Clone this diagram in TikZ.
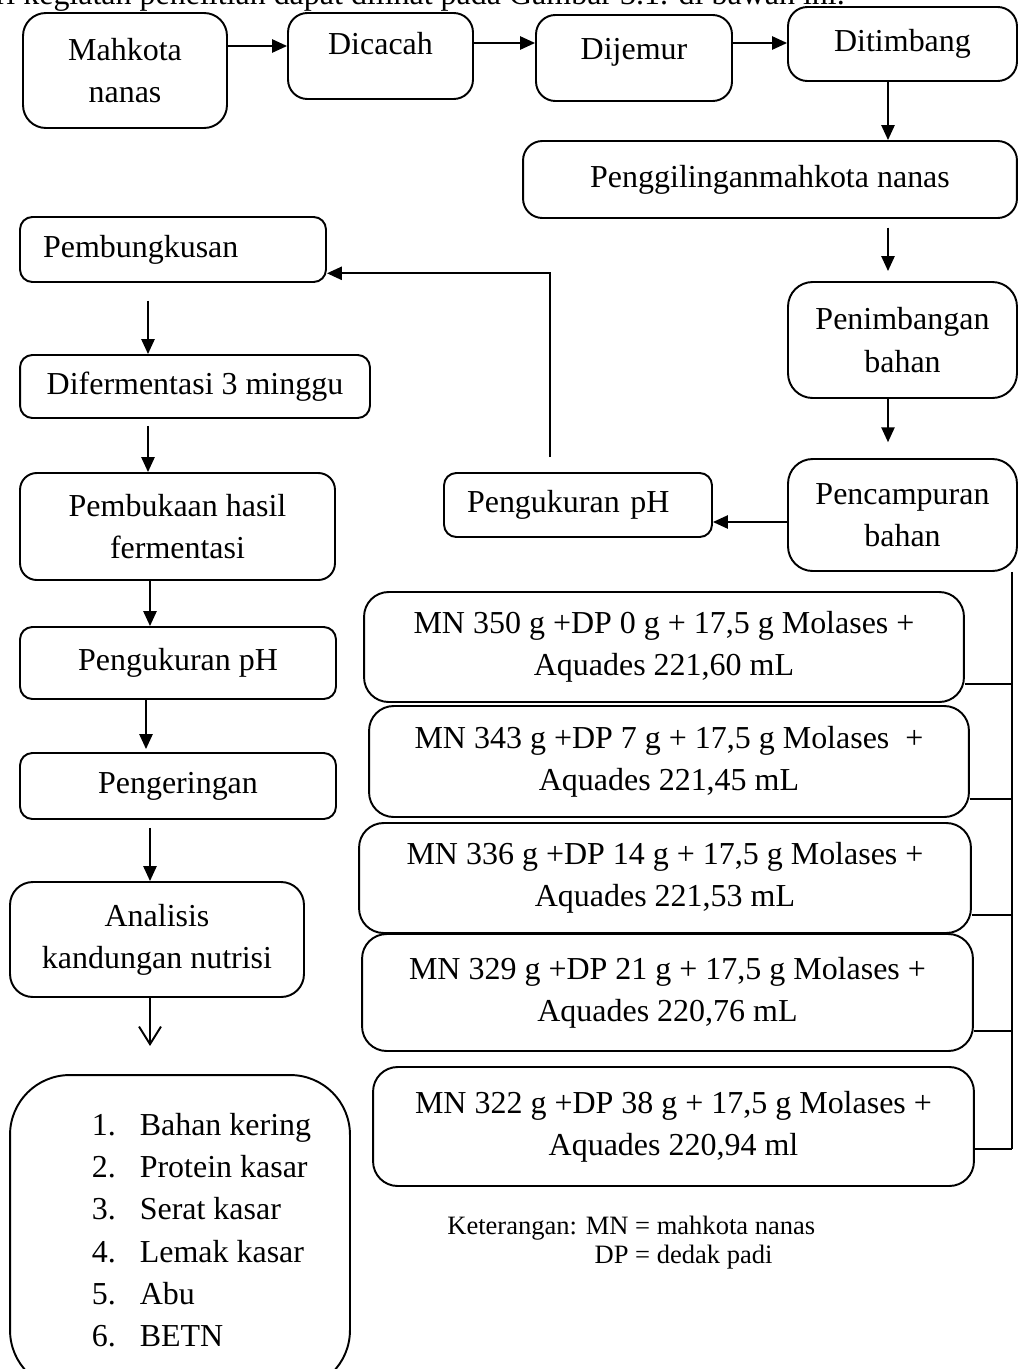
\documentclass[tikz,border=0pt]{standalone}
\usepackage{fontspec}
\setmainfont{Liberation Serif}
\usetikzlibrary{arrows.meta}

\newcommand{\boxfont}{\fontsize{18.2pt}{24pt}\selectfont}
\newcommand{\notefont}{\fontsize{15.1pt}{17pt}\selectfont}

\tikzset{
  box/.style={draw, line width=1.1pt, rounded corners=7pt, align=center, inner sep=2pt, font=\boxfont},
  bigbox/.style={box, rounded corners=13pt},
  lbox/.style={box, align=left, inner xsep=0.46cm, text width=#1},
  arr/.style={line width=1.1pt, -{Triangle[length=8.5pt,width=7.5pt]}},
  openarr/.style={line width=1.1pt, -{Straight Barb[length=10pt,width=12.5pt]}},
  link/.style={line width=1.1pt}
}

\begin{document}
\begin{tikzpicture}[x=0.02cm, y=-0.02cm]
\useasboundingbox (0,0) rectangle (1019,1369);
\clip (0,0) rectangle (1019,1369);
% line of running text cut by the top edge
\node[font=\boxfont, anchor=base east, inner sep=0pt] (intro) at (845,5) {dari kegiatan penelitian dapat dilihat pada Gambar 3.1. di bawah ini.};

% top row
\node[bigbox, minimum width=4.08cm, minimum height=2.3cm] (mahkota) at (125,70.5) {Mahkota\\nanas};
\node[bigbox, rounded corners=11pt, minimum width=3.7cm, minimum height=1.72cm, text depth=14pt] (dicacah) at (380.5,56) {Dicacah};
\node[bigbox, rounded corners=11pt, minimum width=3.92cm, minimum height=1.72cm, text depth=10pt] (dijemur) at (634,58) {Dijemur};
\node[bigbox, rounded corners=11pt, minimum width=4.58cm, minimum height=1.48cm] (ditimbang) at (902.5,44) {Ditimbang};

% right column
\node[bigbox, rounded corners=11pt, minimum width=9.88cm, minimum height=1.54cm] (giling) at (770,179.5) {Penggilinganmahkota nanas};
\node[bigbox, rounded corners=14pt, minimum width=4.58cm, minimum height=2.32cm] (timbang) at (902.5,340) {Penimbangan\\bahan};
\node[bigbox, rounded corners=14pt, minimum width=4.58cm, minimum height=2.24cm] (campur) at (902.5,515) {Pencampuran\\bahan};
\node[lbox=4.44cm, minimum width=5.36cm, minimum height=1.28cm] (ph1) at (578,505) {Pengukuran pH};

% left column
\node[lbox=5.2cm, minimum width=6.12cm, minimum height=1.3cm] (bungkus) at (173,249.5) {Pembungkusan};
\node[box, minimum width=7cm, minimum height=1.26cm] (fermen) at (195,386.5) {Difermentasi 3 minggu};
\node[box, rounded corners=9.5pt, minimum width=6.3cm, minimum height=2.14cm] (buka) at (177.5,526.5) {Pembukaan hasil\\fermentasi};
\node[box, minimum width=6.32cm, minimum height=1.44cm] (ph2) at (178,663) {Pengukuran pH};
\node[box, minimum width=6.32cm, minimum height=1.32cm] (kering) at (178,786) {Pengeringan};
\node[bigbox, minimum width=5.88cm, minimum height=2.3cm] (analisis) at (157,939.5) {Analisis\\kandungan nutrisi};
\node[box, rounded corners=34pt, minimum width=6.8cm, minimum height=6.3cm] (hasil) at (180,1232.5)
  {\begin{tabular}{@{\hspace{0.86cm}}p{0.96cm}@{}l@{}}
   1. & Bahan kering\\ 2. & Protein kasar\\ 3. & Serat kasar\\
   4. & Lemak kasar\\ 5. & Abu\\ 6. & BETN
   \end{tabular}};

% treatments
\node[bigbox, rounded corners=14pt, minimum width=12cm, minimum height=2.2cm] (mn1) at (664,647) {MN 350 g +DP 0 g + 17,5 g Molases +\\Aquades 221,60 mL};
\node[bigbox, rounded corners=14pt, minimum width=12cm, minimum height=2.22cm] (mn2) at (669,761.5) {MN 343 g +DP 7 g + 17,5 g Molases\ \ +\\Aquades 221,45 mL};
\node[bigbox, rounded corners=14pt, minimum width=12.24cm, minimum height=2.2cm] (mn3) at (665,878) {MN 336 g +DP 14 g + 17,5 g Molases +\\Aquades 221,53 mL};
\node[bigbox, rounded corners=14pt, minimum width=12.22cm, minimum height=2.34cm] (mn4) at (667.5,992.5) {MN 329 g +DP 21 g + 17,5 g Molases +\\Aquades 220,76 mL};
\node[bigbox, rounded corners=14pt, minimum width=12.02cm, minimum height=2.38cm] (mn5) at (673.5,1126.5) {MN 322 g +DP 38 g + 17,5 g Molases +\\Aquades 220,94 ml};

\node[font=\notefont, anchor=west, inner sep=0pt] (note) at (447,1243)
  {\begin{tabular}{@{}r@{\ =\ }l@{}}Keterangan: MN & mahkota nanas\\ DP & dedak padi\end{tabular}};

% arrows
\draw[arr] (mahkota.east |- 0,46) -- (dicacah.west |- 0,46);
\draw[arr] (dicacah.east |- 0,43) -- (dijemur.west |- 0,43);
\draw[arr] (dijemur.east |- 0,43) -- (ditimbang.west |- 0,43);
\draw[arr] (ditimbang.south -| 888,0) -- (giling.north -| 888,0);
\draw[arr, shorten <=5pt, shorten >=5.7pt] (giling.south -| 888,0) -- (timbang.north -| 888,0);
\draw[arr, shorten >=9pt] (timbang.south -| 888,0) -- (campur.north -| 888,0);
\draw[arr] (campur.west |- 0,522) -- (ph1.east |- 0,522);
\draw[arr, shorten <=8.5pt] (ph1.north -| 550,0) |- ([yshift=5.5pt]bungkus.south east);

\draw[arr, shorten <=10pt] (bungkus.south -| 148,0) -- (fermen.north -| 148,0);
\draw[arr, shorten <=4pt] (fermen.south -| 148,0) -- (buka.north -| 148,0);
\draw[arr] (buka.south -| 150,0) -- (ph2.north -| 150,0);
\draw[arr, shorten >=1.7pt] (ph2.south -| 146,0) -- (kering.north -| 146,0);
\draw[arr, shorten <=4.5pt] (kering.south -| 150,0) -- (analisis.north -| 150,0);
\draw[openarr, shorten >=16pt] (analisis.south -| 150,0) -- (hasil.north -| 150,0);

% bracket joining the treatments
\coordinate (bus) at (1012,0);
\foreach \i/\s in {1/11pt,2/11pt,3/11pt,4/12pt,5/21.6pt}{
  \coordinate (t\i) at ([yshift=\s]mn\i.south east);
  \draw[link] (t\i) -- (t\i -| bus);
}
\draw[link] (campur.south -| bus) -- (t5 -| bus);
\end{tikzpicture}
\end{document}
